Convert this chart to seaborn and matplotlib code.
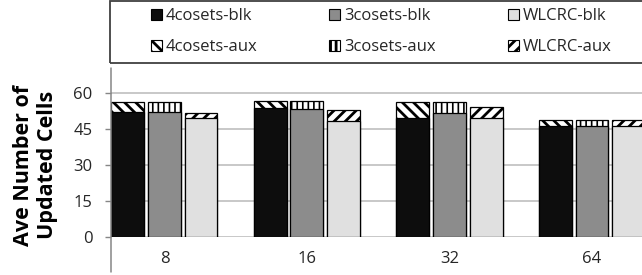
import pandas as pd
import numpy as np
import matplotlib.pyplot as plt
import seaborn as sns
from matplotlib.patches import Patch, Rectangle

# chart values
sizes = ['8', '16', '32', '64']
schemes = ['4cosets', '3cosets', 'WLCRC']
blk_4cosets = [52.0, 53.6, 49.7, 46.4]
blk_3cosets = [52.0, 53.2, 51.5, 46.1]
blk_wlcrc = [49.7, 48.5, 49.4, 46.2]
aux_4cosets = [4.1, 2.9, 6.4, 2.4]
aux_3cosets = [4.1, 3.3, 4.6, 2.6]
aux_wlcrc = [1.8, 4.4, 4.9, 2.5]
yticks = [0, 15, 30, 45, 60]

blk_colors = {'4cosets': '#0d0d0d', '3cosets': '#8c8c8c', 'WLCRC': '#e0e0e0'}
aux_hatches = {'4cosets': '\\\\\\', '3cosets': '|||', 'WLCRC': '///'}

sns.set_style("white")
plt.rcParams['font.family'] = ['Open Sans', 'DejaVu Sans']
plt.rcParams['hatch.linewidth'] = 2.0

# long-format table
rows = []
blk = {'4cosets': blk_4cosets, '3cosets': blk_3cosets, 'WLCRC': blk_wlcrc}
aux = {'4cosets': aux_4cosets, '3cosets': aux_3cosets, 'WLCRC': aux_wlcrc}
for s in schemes:
    for i, size in enumerate(sizes):
        rows.append({'size': size, 'scheme': s, 'blk': blk[s][i],
                     'total': blk[s][i] + aux[s][i]})
df = pd.DataFrame(rows)

W, H = 642, 275
fig = plt.figure(figsize=(W / 100, H / 100), dpi=100)
ax = fig.add_axes([111 / W, (H - 237) / H, (W - 111) / W, (237 - 68) / H])

# stacked look: hatched totals underneath, solid blk bars over them
sns.barplot(data=df, x='size', y='total', hue='scheme', order=sizes,
            hue_order=schemes, palette={s: 'white' for s in schemes},
            width=0.77, gap=0.1, edgecolor='black', linewidth=0.9,
            errorbar=None, legend=False, ax=ax)
sns.barplot(data=df, x='size', y='blk', hue='scheme', order=sizes,
            hue_order=schemes, palette=blk_colors,
            width=0.77, gap=0.1, edgecolor='black', linewidth=0.9,
            errorbar=None, legend=False, ax=ax)

for s, cont in zip(schemes, ax.containers[:3]):
    for p in cont:
        p.set_hatch(aux_hatches[s])
        if s == '3cosets' and hasattr(p, 'set_hatch_linewidth'):
            p.set_hatch_linewidth(1.2)

ax.set_xlim(-0.375, 3.351)
ax.set_ylim(0, 70.4)
ax.set_yticks(yticks)
ax.yaxis.grid(True, color='#bfbfbf', linewidth=1.2)
ax.set_axisbelow(True)
for side in ['top', 'right', 'bottom', 'left']:
    ax.spines[side].set_visible(False)
ax.axvline(ax.get_xlim()[0], ymin=-0.21, ymax=1, color='#868686',
           linewidth=1.1, clip_on=False)
ax.tick_params(axis='y', length=4.3, width=1, color='#868686', pad=9,
               labelsize=12, labelcolor='#262626', left=True)
ax.tick_params(axis='x', length=0, pad=10, labelsize=12, labelcolor='#262626')
ax.set_xlabel('')
ax.set_ylabel('Ave Number of\nUpdated Cells', fontsize=15.5, fontweight='bold',
              linespacing=1.2, color='black')
ax.yaxis.set_label_coords(-0.1, 0.426)

# legend
handles = []
labels = []
for s in schemes:
    handles.append(Patch(facecolor=blk_colors[s], edgecolor='black', linewidth=0.8))
    labels.append(s + '-blk')
    handles.append(Patch(facecolor='white', edgecolor='black', linewidth=0.8,
                         hatch=aux_hatches[s]))
    labels.append(s + '-aux')
fig.legend(handles, labels, ncol=3, loc='upper left',
           bbox_to_anchor=(151 / W, 1 - 8 / H), frameon=False,
           borderaxespad=0, borderpad=0, fontsize=12,
           handlelength=0.65, handleheight=0.65, handletextpad=0.25,
           columnspacing=4.3, labelspacing=0.9)
fig.add_artist(Rectangle((110 / W, 1 - 63 / H), (660 - 110) / W, 62 / H,
                         transform=fig.transFigure, fill=False,
                         edgecolor='#404040', linewidth=1.3))

fig.savefig('out.png', dpi=100)
